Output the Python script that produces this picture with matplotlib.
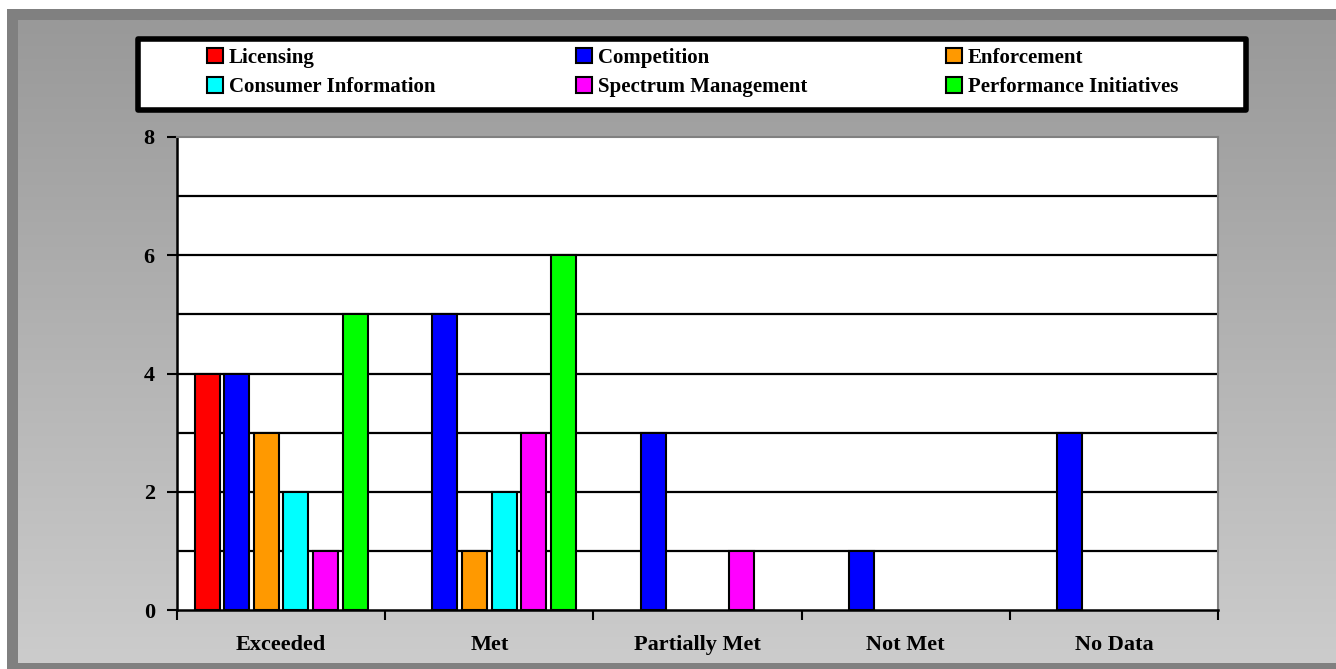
import numpy as np
import matplotlib
matplotlib.use("Agg")
import matplotlib.pyplot as plt
from matplotlib.patches import Rectangle
from matplotlib.colors import LinearSegmentedColormap

categories = ["Exceeded", "Met", "Partially Met", "Not Met", "No Data"]
series_names = ["Licensing", "Competition", "Enforcement",
                "Consumer Information", "Spectrum Management", "Performance Initiatives"]
licensing = [4, 0, 0, 0, 0]
competition = [4, 5, 3, 1, 3]
enforcement = [3, 1, 0, 0, 0]
consumer_information = [2, 2, 0, 0, 0]
spectrum_management = [1, 3, 1, 0, 0]
performance_initiatives = [5, 6, 0, 0, 0]
series_values = [licensing, competition, enforcement,
                 consumer_information, spectrum_management, performance_initiatives]
colors = ["#FF0000", "#0000FF", "#FF9900", "#00FFFF", "#FF00FF", "#00FF00"]
y_ticks = [0, 2, 4, 6, 8]

plt.rcParams['font.family'] = ['Liberation Serif', 'DejaVu Serif']
plt.rcParams['font.weight'] = 'bold'

W, H = 1336, 669
fig = plt.figure(figsize=(W / 100, H / 100), dpi=100)
fig.patch.set_facecolor("white")

# background (pixel coordinates)
bg = fig.add_axes([0, 0, 1, 1], zorder=0)
bg.axis("off")
bg.add_patch(Rectangle((7, 9), W - 7, H - 9, facecolor="#808080", edgecolor="none"))
grad = np.linspace(0, 1, 256).reshape(-1, 1)
cmap = LinearSegmentedColormap.from_list("g", ["#999999", "#cccccc"])
bg.imshow(grad, cmap=cmap, extent=(18, W, 663, 20), aspect="auto", zorder=1)
bg.add_patch(Rectangle((138, 39), 1108, 71, facecolor="white", edgecolor="black",
                       linewidth=4, zorder=2, joinstyle="round"))
bg.set_xlim(0, W)
bg.set_ylim(H, 0)

# main axes
ax = fig.add_axes([177 / W, 1 - 610 / H, (1218 - 177) / W, (610 - 137) / H], zorder=1)
ax.set_facecolor("white")
n = len(series_names)
step = 0.1422
width = 0.12
x = np.arange(len(categories))
handles = []
for k, (name, vals, col) in enumerate(zip(series_names, series_values, colors)):
    b = ax.bar(x + (k - (n - 1) / 2) * step, vals, width, color=col,
               edgecolor="black", linewidth=1.5, label=name, zorder=3)
    for p, v in zip(b.patches, vals):
        if v == 0:
            p.set_visible(False)
    handles.append(b)

ax.set_xlim(-0.5, len(categories) - 0.5)
ax.set_ylim(0, 8)
for yv in range(1, 8):
    ax.axhline(yv, color="black", linewidth=1.6, zorder=2)
ax.set_yticks(y_ticks)
ax.set_yticklabels([str(v) for v in y_ticks], fontsize=16, fontweight="bold")
ax.set_xticks(np.arange(len(categories) + 1) - 0.5)
ax.set_xticklabels([])
ax.set_xticks(x, minor=True)
ax.set_xticklabels(categories, minor=True, fontsize=16, fontweight="bold")
ax.tick_params(axis="x", which="minor", length=0, pad=18)
ax.tick_params(axis="x", which="major", length=7, width=1.5, direction="out")
ax.tick_params(axis="y", length=7, width=1.5, direction="out", pad=9)
for s in ["left", "bottom"]:
    ax.spines[s].set_color("black")
    ax.spines[s].set_linewidth(1.8)
for s in ["top", "right"]:
    ax.spines[s].set_color("#808080")
    ax.spines[s].set_linewidth(1.5)

# legend: three columns placed at equal spacing, row-major order
col_x = [207, 576, 946]
for c in range(3):
    idx = [c, c + 3]
    leg = fig.legend(handles=[handles[i] for i in idx],
                     labels=[series_names[i] for i in idx],
                     loc="upper left", bbox_to_anchor=(col_x[c] / W, 1 - 48 / H),
                     frameon=False,
                     prop={"family": "Liberation Serif", "weight": "bold", "size": 15},
                     handlelength=0.75, handleheight=0.75, handletextpad=0.3,
                     labelspacing=0.45, borderaxespad=0, borderpad=0)
    leg.set_zorder(5)

fig.savefig("out.png", dpi=100)
